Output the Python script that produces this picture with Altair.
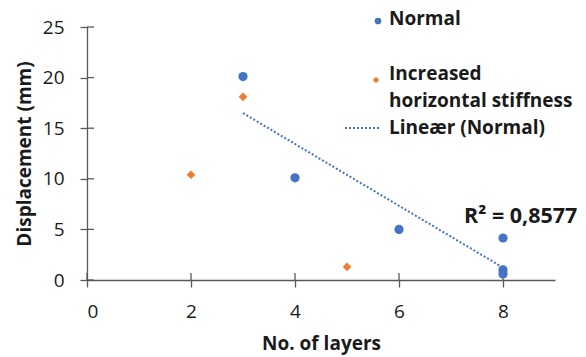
import altair as alt
import pandas as pd

# Data
normal_x = [3, 4, 6, 8, 8, 8]
normal_y = [20.1, 10.1, 5.0, 4.15, 1.0, 0.6]
incr_x = [2, 3, 5]
incr_y = [10.4, 18.1, 1.3]
x_ticks = [0, 2, 4, 6, 8]
y_ticks = [0, 5, 10, 15, 20, 25]
r2_label = "R² = 0,8577"
legend_labels = ["Normal", "Increased", "horizontal stiffness", "Lineær (Normal)"]

BLUE = "#4472C4"
ORANGE = "#ED7D31"
AXIS = "#595959"
TEXT = "#1a1a1a"
FONT = "Open Sans"
W, H = 468, 253

normal = pd.DataFrame({"x": normal_x, "y": normal_y})
incr = pd.DataFrame({"x": incr_x, "y": incr_y})

xscale = alt.Scale(domain=[0, 9], nice=False, zero=False)
yscale = alt.Scale(domain=[0, 25], nice=False)

axis_common = dict(
    domainColor=AXIS, domainWidth=1.3, tickColor=AXIS, tickWidth=1.3, tickSize=7,
    grid=False, labelFont=FONT, labelFontSize=19, labelColor=TEXT,
    titleFont=FONT, titleFontSize=19, titleFontWeight="bold", titleColor=TEXT,
)
X_ENC = alt.X("x:Q", scale=xscale,
              axis=alt.Axis(values=x_ticks, title="No. of layers", labelPadding=15,
                            titlePadding=13, **axis_common))
Y_ENC = alt.Y("y:Q", scale=yscale,
              axis=alt.Axis(values=y_ticks, title="Displacement (mm)", labelPadding=16,
                            titlePadding=8, **axis_common))

pts_normal = alt.Chart(normal).mark_point(
    shape="circle", filled=True, size=85, color=BLUE, opacity=1
).encode(x=X_ENC, y=Y_ENC)

pts_incr = alt.Chart(incr).mark_point(
    shape="diamond", filled=True, size=75, color=ORANGE, opacity=1
).encode(x=X_ENC, y=Y_ENC)

trend = alt.Chart(normal).transform_regression(
    "x", "y", method="linear", extent=[3, 8]
).mark_line(color=BLUE, strokeWidth=2, strokeDash=[2, 2]).encode(x=X_ENC, y=Y_ENC)

# inner halves of the crossing tick marks
ytick_df = pd.DataFrame({"y": y_ticks})
xtick_df = pd.DataFrame({"x": x_ticks})
ytick_in = alt.Chart(ytick_df).mark_rule(color=AXIS, strokeWidth=1.3).encode(
    y=Y_ENC, x=alt.value(0), x2=alt.value(7)
)
xtick_in = alt.Chart(xtick_df).mark_rule(color=AXIS, strokeWidth=1.3).encode(
    x=X_ENC, y=alt.value(H), y2=alt.value(H - 7)
)

r2 = alt.Chart(pd.DataFrame({"label": [r2_label]})).mark_text(
    font=FONT, fontSize=21.5, fontWeight="bold", color=TEXT, align="left", baseline="middle"
).encode(text="label:N", x=alt.value(377), y=alt.value(190))

# legend
leg_text = alt.Chart(pd.DataFrame({"label": legend_labels, "ypos": [-8, 47, 74, 101]})).mark_text(
    font=FONT, fontSize=19, fontWeight="bold", color=TEXT, align="left", baseline="middle"
).encode(text="label:N", x=alt.value(302), y=alt.Y("ypos:Q", scale=None))

leg_circle = alt.Chart(pd.DataFrame({"k": [0]})).mark_point(
    shape="circle", filled=True, size=45, color=BLUE, opacity=1
).encode(x=alt.value(291), y=alt.value(-6))
leg_diamond = alt.Chart(pd.DataFrame({"k": [0]})).mark_point(
    shape="diamond", filled=True, size=40, color=ORANGE, opacity=1
).encode(x=alt.value(289), y=alt.value(53))
leg_line = alt.Chart(pd.DataFrame({"k": [0]})).mark_rule(
    color=BLUE, strokeWidth=2, strokeDash=[2, 2]
).encode(x=alt.value(258), x2=alt.value(293), y=alt.value(101))

chart = alt.layer(
    ytick_in, xtick_in, trend, pts_incr, pts_normal, r2,
    leg_text, leg_circle, leg_diamond, leg_line
).properties(
    width=W, height=H,
    autosize=alt.AutoSizeParams(type="none"),
    padding={"left": 87, "top": 27, "right": 31, "bottom": 77},
    background="white",
).configure_view(stroke=None)

chart.save("out.html", embed_options={"renderer": "svg", "actions": False})
